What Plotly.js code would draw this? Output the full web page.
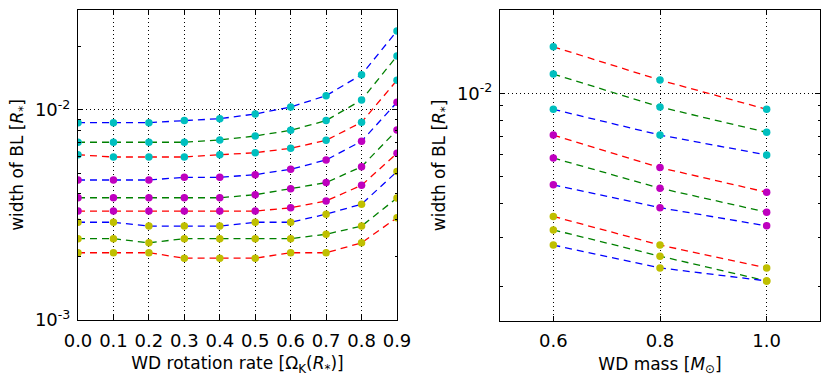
<!DOCTYPE html>
<html>
<head>
<meta charset="utf-8">
<script src="https://cdn.plot.ly/plotly-3.0.1.min.js"></script>
<style>
  html, body { margin: 0; padding: 0; background: #fff; }
  #chart { width: 830px; height: 379px; }
</style>
</head>
<body>
<div id="chart"></div>
<script>
// left panel: width of BL vs WD rotation rate
const rotRate = [0.0, 0.1, 0.2, 0.3, 0.4, 0.5, 0.6, 0.7, 0.8, 0.9];
const rot1 = [0.00870, 0.00870, 0.00870, 0.00890, 0.00909, 0.00957, 0.01033, 0.01170, 0.01473, 0.02377];
const rot2 = [0.00702, 0.00702, 0.00702, 0.00702, 0.00720, 0.00752, 0.00800, 0.00890, 0.01116, 0.01807];
const rot3 = [0.00612, 0.00597, 0.00597, 0.00597, 0.00612, 0.00626, 0.00657, 0.00717, 0.00874, 0.01385];
const rot4 = [0.00464, 0.00464, 0.00464, 0.00478, 0.00478, 0.00492, 0.00522, 0.00578, 0.00710, 0.01088];
const rot5 = [0.00382, 0.00382, 0.00382, 0.00382, 0.00382, 0.00395, 0.00422, 0.00451, 0.00537, 0.00803];
const rot6 = [0.00330, 0.00330, 0.00330, 0.00330, 0.00330, 0.00330, 0.00342, 0.00369, 0.00438, 0.00622];
const rot7 = [0.00292, 0.00292, 0.00280, 0.00280, 0.00280, 0.00292, 0.00292, 0.00319, 0.00356, 0.00509];
const rot8 = [0.00244, 0.00244, 0.00233, 0.00244, 0.00244, 0.00244, 0.00244, 0.00256, 0.00280, 0.00381];
const rot9 = [0.00209, 0.00209, 0.00209, 0.00197, 0.00197, 0.00197, 0.00209, 0.00209, 0.00233, 0.00307];

// right panel: width of BL vs WD mass
const wdMass = [0.6, 0.8, 1.0];
const mass1 = [0.01475, 0.01117, 0.00875];
const mass2 = [0.01175, 0.00892, 0.00722];
const mass3 = [0.00875, 0.00706, 0.00598];
const mass4 = [0.00706, 0.00538, 0.00438];
const mass5 = [0.00583, 0.00453, 0.00371];
const mass6 = [0.00466, 0.00385, 0.00331];
const mass7 = [0.00358, 0.00282, 0.00233];
const mass8 = [0.00320, 0.00257, 0.00209];
const mass9 = [0.00282, 0.00233, 0.00209];

const rotTicks = [0.0, 0.1, 0.2, 0.3, 0.4, 0.5, 0.6, 0.7, 0.8, 0.9];
const massTicks = [0.6, 0.8, 1.0];

const BLUE = "#0000ff", GREEN = "#008000", RED = "#ff0000";
const CYAN = "#00bfbf", MAGENTA = "#bf00bf", YELLOW = "#bfbf00";

const FONT = "DejaVu Sans";

function series(x, y, lineColor, markerColor, xa, ya) {
  return {
    type: "scatter",
    mode: "lines+markers",
    x: x,
    y: y,
    xaxis: xa,
    yaxis: ya,
    line: { color: lineColor, width: 1.3, dash: "7px,5px" },
    marker: { color: markerColor, size: 7.5, line: { width: 0 } },
    showlegend: false,
    hoverinfo: "skip"
  };
}

const traces = [
  series(rotRate, rot1, BLUE, CYAN, "x", "y"),
  series(rotRate, rot2, GREEN, CYAN, "x", "y"),
  series(rotRate, rot3, RED, CYAN, "x", "y"),
  series(rotRate, rot4, BLUE, MAGENTA, "x", "y"),
  series(rotRate, rot5, GREEN, MAGENTA, "x", "y"),
  series(rotRate, rot6, RED, MAGENTA, "x", "y"),
  series(rotRate, rot7, BLUE, YELLOW, "x", "y"),
  series(rotRate, rot8, GREEN, YELLOW, "x", "y"),
  series(rotRate, rot9, RED, YELLOW, "x", "y"),

  series(wdMass, mass1, RED, CYAN, "x2", "y2"),
  series(wdMass, mass2, GREEN, CYAN, "x2", "y2"),
  series(wdMass, mass3, BLUE, CYAN, "x2", "y2"),
  series(wdMass, mass4, RED, MAGENTA, "x2", "y2"),
  series(wdMass, mass5, GREEN, MAGENTA, "x2", "y2"),
  series(wdMass, mass6, BLUE, MAGENTA, "x2", "y2"),
  series(wdMass, mass7, RED, YELLOW, "x2", "y2"),
  series(wdMass, mass8, GREEN, YELLOW, "x2", "y2"),
  series(wdMass, mass9, BLUE, YELLOW, "x2", "y2")
];

function minorLogTicks(lo, hi) {
  const out = [];
  for (let e = lo; e <= hi; e++) {
    for (let m = 2; m <= 9; m++) out.push(m * Math.pow(10, e));
  }
  return out;
}

const frame = {
  showline: true,
  linecolor: "#000",
  linewidth: 1,
  mirror: "ticks",
  ticks: "inside",
  ticklen: 5,
  tickcolor: "#000",
  showgrid: true,
  gridcolor: "#000",
  gridwidth: 1,
  griddash: "1px,3px",
  zeroline: false,
  tickfont: { family: FONT, size: 18, color: "#000" }
};

const titleFont = { family: FONT, size: 17, color: "#000" };

const layout = {
  width: 830,
  height: 379,
  margin: { l: 0, r: 0, t: 0, b: 0 },
  paper_bgcolor: "#fff",
  plot_bgcolor: "#fff",
  font: { family: FONT, color: "#000" },
  xaxis: Object.assign({}, frame, {
    domain: [78 / 830, 397 / 830],
    anchor: "y",
    range: [0, 0.9],
    tickmode: "array",
    tickvals: rotTicks,
    ticktext: rotTicks.map(v => v.toFixed(1)),
    ticklabelstandoff: 4,
    title: { text: "WD rotation rate [Ω<sub>K</sub>(<i>R</i><sub>*</sub>)]", font: titleFont, standoff: 7 }
  }),
  yaxis: Object.assign({}, frame, {
    domain: [1 - 320 / 379, 1 - 10 / 379],
    anchor: "x",
    type: "log",
    range: [-3, -1.524],
    tickmode: "array",
    tickvals: [0.001, 0.01],
    ticktext: ["10<sup>-3</sup>", "10<sup>-2</sup>"],
    ticklabelstandoff: 3,
    minor: { tickvals: minorLogTicks(-3, -2), ticks: "inside", ticklen: 2.5, tickcolor: "#000", showgrid: false },
    title: { text: "width of BL [<i>R</i><sub>*</sub>]", font: titleFont, standoff: 6 }
  }),
  xaxis2: Object.assign({}, frame, {
    domain: [500 / 830, 820 / 830],
    anchor: "y2",
    range: [0.5, 1.1],
    tickmode: "array",
    tickvals: massTicks,
    ticktext: massTicks.map(v => v.toFixed(1)),
    ticklabelstandoff: 4,
    title: { text: "WD mass [<i>M</i><sub>⊙</sub>]", font: titleFont, standoff: 7 }
  }),
  yaxis2: Object.assign({}, frame, {
    domain: [1 - 320.7 / 379, 1 - 10 / 379],
    anchor: "x2",
    type: "log",
    range: [-2.824, -1.698],
    tickmode: "array",
    tickvals: [0.01],
    ticktext: ["10<sup>-2</sup>"],
    ticklabelstandoff: 3,
    minor: { tickvals: minorLogTicks(-3, -2), ticks: "inside", ticklen: 2.5, tickcolor: "#000", showgrid: false },
    title: { text: "width of BL [<i>R</i><sub>*</sub>]", font: titleFont, standoff: 6 }
  })
};

Plotly.newPlot("chart", traces, layout, { displayModeBar: false, staticPlot: true });
</script>
</body>
</html>
